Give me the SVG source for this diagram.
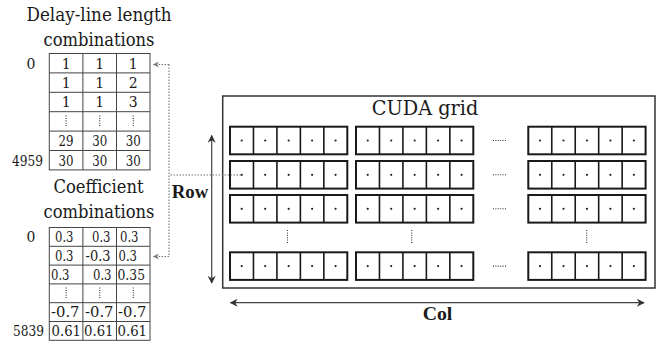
<svg xmlns="http://www.w3.org/2000/svg" width="659" height="342" viewBox="0 0 659 342">
<style>
.title{font-size:18px;text-anchor:middle}
.cell{font-size:14px;text-anchor:middle}
.cs{font-size:14px;text-anchor:start}
.idx{font-size:14px;text-anchor:end}
.tbl{fill:#fff;stroke:#444;stroke-width:1}
.tl{stroke:#444;stroke-width:1}
.vd{stroke:#333;stroke-width:1.1;stroke-dasharray:1 1.4}
.axis{font-size:19px;font-weight:bold}
.conn{fill:none;stroke:#777;stroke-width:1.1;stroke-dasharray:1.5 1.5}
.arr{fill:none;stroke:#444;stroke-width:1.2}
.hd{stroke:#333;stroke-width:1.1;stroke-dasharray:1 1.4}
</style>
<defs>
<marker id="ah" viewBox="0 0 10 10" refX="9" refY="5" markerWidth="9" markerHeight="8" markerUnits="userSpaceOnUse" orient="auto-start-reverse">
<path d="M0,0 L10,5 L0,10 L3,5 z" fill="#333"/>
</marker>
<marker id="ahs" viewBox="0 0 10 10" refX="9" refY="5" markerWidth="7" markerHeight="6" markerUnits="userSpaceOnUse" orient="auto">
<path d="M0,0 L10,5 L0,10 L3,5 z" fill="#777"/>
</marker>
<g id="blk">
<rect x="0" y="0" width="117.3" height="27.6" fill="#fff" stroke="#1a1a1a" stroke-width="2"/>
<path d="M23.46,0V27.6M46.92,0V27.6M70.38,0V27.6M93.84,0V27.6" stroke="#1a1a1a" stroke-width="1.6"/>
<g fill="#222">
<circle cx="11.73" cy="13.8" r="1.1"/><circle cx="35.19" cy="13.8" r="1.1"/><circle cx="58.65" cy="13.8" r="1.1"/><circle cx="82.11" cy="13.8" r="1.1"/><circle cx="105.57" cy="13.8" r="1.1"/>
</g>
</g>
</defs>

<g font-family="'DejaVu Serif', 'Liberation Serif', serif" fill="#1a1a1a">
<g id="delay-table">
<text class="title" x="99" y="20.5" textLength="145" lengthAdjust="spacingAndGlyphs">Delay-line length</text>
<text class="title" x="99" y="45.5" textLength="111" lengthAdjust="spacingAndGlyphs">combinations</text>
<rect class="tbl" x="49.3" y="53.5" width="100.7" height="116.4"/>
<path class="tl" d="M82.9,53.5V169.9M116.5,53.5V169.9M49.3,72.9H150M49.3,92.3H150M49.3,111.7H150M49.3,131.1H150M49.3,150.5H150"/>
<text class="cell" x="66.1" y="68.5">1</text><text class="cell" x="99.7" y="68.5">1</text><text class="cell" x="133.3" y="68.5">1</text>
<text class="cell" x="66.1" y="87.9">1</text><text class="cell" x="99.7" y="87.9">1</text><text class="cell" x="133.3" y="87.9">2</text>
<text class="cell" x="66.1" y="107.3">1</text><text class="cell" x="99.7" y="107.3">1</text><text class="cell" x="133.3" y="107.3">3</text>
<path class="vd" d="M66.1,115.5V127.5M99.7,115.5V127.5M133.3,115.5V127.5"/>
<text class="cell" x="66.1" y="146.1" textLength="15" lengthAdjust="spacingAndGlyphs">29</text><text class="cell" x="99.7" y="146.1" textLength="15" lengthAdjust="spacingAndGlyphs">30</text><text class="cell" x="133.3" y="146.1" textLength="15" lengthAdjust="spacingAndGlyphs">30</text>
<text class="cell" x="66.1" y="165.5" textLength="15" lengthAdjust="spacingAndGlyphs">30</text><text class="cell" x="99.7" y="165.5" textLength="15" lengthAdjust="spacingAndGlyphs">30</text><text class="cell" x="133.3" y="165.5" textLength="15" lengthAdjust="spacingAndGlyphs">30</text>
<text class="cell" x="31" y="68.5">0</text>
<text class="idx" x="43" y="165.5" textLength="31" lengthAdjust="spacingAndGlyphs">4959</text>
</g>

<g id="coef-table">
<text class="title" x="98.5" y="193.3" textLength="90" lengthAdjust="spacingAndGlyphs">Coefficient</text>
<text class="title" x="99" y="218.3" textLength="111" lengthAdjust="spacingAndGlyphs">combinations</text>
<rect class="tbl" x="49.3" y="227.5" width="100.7" height="112.8"/>
<path class="tl" d="M82.9,227.5V340.3M116.5,227.5V340.3M49.3,246.3H150M49.3,265.1H150M49.3,283.9H150M49.3,302.7H150M49.3,321.5H150"/>
<text class="cs" x="55" y="242" textLength="18.5" lengthAdjust="spacingAndGlyphs">0.3</text><text class="cs" x="92" y="242" textLength="18.5" lengthAdjust="spacingAndGlyphs">0.3</text><text class="cs" x="120" y="242" textLength="18.5" lengthAdjust="spacingAndGlyphs">0.3</text>
<text class="cs" x="55" y="261" textLength="18.5" lengthAdjust="spacingAndGlyphs">0.3</text><text class="cs" x="85.5" y="261" textLength="25" lengthAdjust="spacingAndGlyphs">-0.3</text><text class="cs" x="118.5" y="261" textLength="18.5" lengthAdjust="spacingAndGlyphs">0.3</text>
<text class="cs" x="51" y="279.8" textLength="18.5" lengthAdjust="spacingAndGlyphs">0.3</text><text class="cs" x="93" y="279.8" textLength="18.5" lengthAdjust="spacingAndGlyphs">0.3</text><text class="cs" x="117.5" y="279.8" textLength="27.5" lengthAdjust="spacingAndGlyphs">0.35</text>
<path class="vd" d="M66.1,287.5V299M99.7,287.5V299M133.3,287.5V299"/>
<text class="cs" x="51" y="317.4" textLength="28.5" lengthAdjust="spacingAndGlyphs">-0.7</text><text class="cs" x="85" y="317.4" textLength="28.5" lengthAdjust="spacingAndGlyphs">-0.7</text><text class="cs" x="118" y="317.4" textLength="28.5" lengthAdjust="spacingAndGlyphs">-0.7</text>
<text class="cs" x="51.5" y="336.2" textLength="29.5" lengthAdjust="spacingAndGlyphs">0.61</text><text class="cs" x="84" y="336.2" textLength="29.5" lengthAdjust="spacingAndGlyphs">0.61</text><text class="cs" x="117.5" y="336.2" textLength="29.5" lengthAdjust="spacingAndGlyphs">0.61</text>
<text class="cell" x="31" y="242">0</text>
<text class="idx" x="44" y="336.2" textLength="31" lengthAdjust="spacingAndGlyphs">5839</text>
</g>

<g id="cuda-grid">
<rect x="222.7" y="96" width="432.3" height="192" fill="#fff" stroke="#333" stroke-width="1.5"/>
<text x="425" y="115" font-size="20" text-anchor="middle" textLength="106.6" lengthAdjust="spacingAndGlyphs">CUDA grid</text>
<g id="row1"><use href="#blk" x="230" y="126.7"/><use href="#blk" x="356" y="126.7"/><use href="#blk" x="528.3" y="126.7"/></g>
<g id="row2"><use href="#blk" x="230" y="161"/><use href="#blk" x="356" y="161"/><use href="#blk" x="528.3" y="161"/></g>
<g id="row3"><use href="#blk" x="230" y="195"/><use href="#blk" x="356" y="195"/><use href="#blk" x="528.3" y="195"/></g>
<g id="row4"><use href="#blk" x="230" y="252.3"/><use href="#blk" x="356" y="252.3"/><use href="#blk" x="528.3" y="252.3"/></g>
<path class="hd" d="M493,140.5H507M493,174.8H507M493,208.8H507M493,266.1H507"/>
<path class="vd" d="M287.5,230V243.5M411.7,230V243.5M586.7,230V243.5"/>
</g>

<g id="axes" font-family="'Liberation Serif', 'Times New Roman', serif">
<line class="arr" x1="211.7" y1="283" x2="211.7" y2="135.5" marker-start="url(#ah)" marker-end="url(#ah)"/>
<line class="arr" x1="230.5" y1="302.7" x2="644" y2="302.7" marker-start="url(#ah)" marker-end="url(#ah)"/>
<text class="axis" x="171.7" y="198.3" textLength="36.6" lengthAdjust="spacingAndGlyphs">Row</text>
<text class="axis" x="437.5" y="320" text-anchor="middle" textLength="29.7" lengthAdjust="spacingAndGlyphs">Col</text>
</g>
</g>

<g id="connectors">
<path class="conn" d="M241,175H169"/>
<path class="conn" d="M169,64.5V256.5"/>
<path class="conn" d="M169,64.5H153.5" marker-end="url(#ahs)"/>
<path class="conn" d="M169,256.5H153.5" marker-end="url(#ahs)"/>
</g>
</svg>
